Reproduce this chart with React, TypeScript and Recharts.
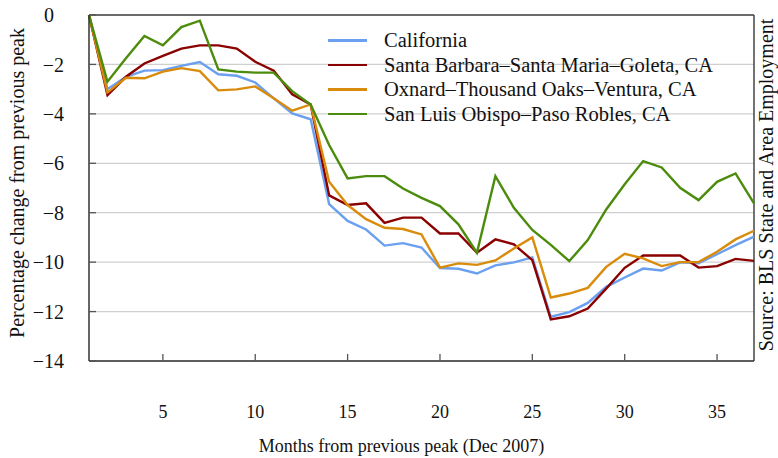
import { LineChart, Line, XAxis, YAxis, CartesianGrid, ReferenceLine, Legend, Label } from "recharts";

const months = Array.from({ length: 37 }, (_, i) => i + 1);

const california = [
  0, -3.0, -2.5, -2.25, -2.23, -2.06, -1.9, -2.4, -2.46, -2.73,
  -3.37, -3.98, -4.22, -7.65, -8.33, -8.68, -9.33, -9.23, -9.41, -10.24,
  -10.27, -10.46, -10.13, -10.01, -9.81, -12.21, -12.02, -11.65, -11.0, -10.62,
  -10.26, -10.34, -10.01, -10.05, -9.68, -9.31, -8.97,
];
const santaBarbara = [
  0, -3.24, -2.5, -1.96, -1.65, -1.36, -1.23, -1.23, -1.36, -1.89,
  -2.25, -3.21, -3.62, -7.3, -7.69, -7.62, -8.41, -8.2, -8.2, -8.84,
  -8.84, -9.62, -9.08, -9.28, -9.92, -12.32, -12.19, -11.88, -11.07, -10.23,
  -9.73, -9.73, -9.73, -10.22, -10.16, -9.87, -9.95,
];
const oxnard = [
  0, -3.13, -2.54, -2.56, -2.29, -2.15, -2.27, -3.05, -3.01, -2.89,
  -3.37, -3.87, -3.62, -6.75, -7.69, -8.26, -8.61, -8.66, -8.88, -10.22,
  -10.05, -10.11, -9.93, -9.45, -9.0, -11.43, -11.27, -11.04, -10.19, -9.66,
  -9.85, -10.16, -10.0, -10.0, -9.58, -9.08, -8.73,
];
const sanLuis = [
  0, -2.7, -1.75, -0.85, -1.23, -0.49, -0.23, -2.2, -2.29, -2.33,
  -2.33, -3.08, -3.62, -5.26, -6.61, -6.52, -6.52, -7.02, -7.4, -7.73,
  -8.47, -9.62, -6.52, -7.8, -8.7, -9.3, -9.96, -9.11, -7.87, -6.85,
  -5.91, -6.17, -6.99, -7.49, -6.75, -6.41, -7.62,
];

const xTicks = [5, 10, 15, 20, 25, 30, 35];
const yTicks = [0, -2, -4, -6, -8, -10, -12, -14];

const series = [
  { key: "ca", name: "California", color: "#6b9ff0" },
  { key: "sb", name: "Santa Barbara\u2013Santa Maria\u2013Goleta, CA", color: "#8b0000" },
  { key: "ox", name: "Oxnard\u2013Thousand Oaks\u2013Ventura, CA", color: "#d98b0b" },
  { key: "sl", name: "San Luis Obispo\u2013Paso Robles, CA", color: "#4c8c0c" },
];

const data = months.map((m, i) => ({
  month: m,
  ca: california[i],
  sb: santaBarbara[i],
  ox: oxnard[i],
  sl: sanLuis[i],
}));

const FONT = "'Liberation Serif', 'DejaVu Serif', serif";
// zero keeps a blank where the minus sign would sit, as in the source figure
const fmt = (v: number) => (v < 0 ? `\u2212${Math.abs(v)}` : `${v}\u2002`);

function LegendBox() {
  return (
    <div style={{ fontFamily: FONT, fontSize: 20.5, color: "#111" }}>
      {series.map((s) => (
        <div key={s.key} style={{ display: "flex", alignItems: "center", height: 24.5 }}>
          <span style={{ width: 39, height: 2.5, background: s.color, display: "inline-block", marginRight: 17 }} />
          <span style={{ lineHeight: "24px" }}>{s.name}</span>
        </div>
      ))}
    </div>
  );
}

export default function App() {
  return (
    <div style={{ position: "absolute", left: 0, top: 0, width: 778, height: 458, background: "#fff" }}>
      <LineChart width={778} height={458} data={data} margin={{ top: 15, right: 24, bottom: 57, left: 29 }}>
        <CartesianGrid horizontal vertical={false} stroke="#cfcfcf" strokeWidth={1.3} />
        <XAxis
          dataKey="month" type="number" domain={[1, 37]} ticks={xTicks} height={40}
          axisLine={{ stroke: "#333", strokeWidth: 1.5 }} tickLine={{ stroke: "#555", strokeWidth: 1.3 }}
          tickSize={-7} tickMargin={39}
          tick={{ fontSize: 18, fill: "#111", fontFamily: FONT, dy: 12.5 }}
        >
          <Label value="Months from previous peak (Dec 2007)" position="bottom" offset={38} dx={-20}
            style={{ fontSize: 18, fill: "#111", fontFamily: FONT }} />
        </XAxis>
        <YAxis
          type="number" domain={[-14, 0]} ticks={yTicks} width={60}
          axisLine={{ stroke: "#333", strokeWidth: 1.5 }} tickLine={{ stroke: "#555", strokeWidth: 1.3 }}
          tickSize={-7} tickMargin={32} tickFormatter={fmt}
          tick={{ fontSize: 20, fill: "#111", fontFamily: FONT }}
        >
          <Label value="Percentage change from previous peak" angle={-90} position="left" offset={12} dy={-5}
            style={{ fontSize: 20, fill: "#111", fontFamily: FONT, textAnchor: "middle" }} />
        </YAxis>
        <ReferenceLine y={0} stroke="#444" strokeWidth={1.5} />
        <ReferenceLine x={37} stroke="#444" strokeWidth={1.5}>
          <Label value="Source: BLS State and Area Employment" angle={-90} position="right" offset={12} dy={-3}
            style={{ fontSize: 20, fill: "#111", fontFamily: FONT, textAnchor: "middle" }} />
        </ReferenceLine>
        <Legend content={<LegendBox />} layout="vertical" verticalAlign="middle" align="center"
          wrapperStyle={{ left: 328, top: 28, width: 400 }} />
        {series.map((s) => (
          <Line key={s.key} type="linear" dataKey={s.key} name={s.name} stroke={s.color}
            strokeWidth={2.4} dot={false} isAnimationActive={false} />
        ))}
      </LineChart>
    </div>
  );
}
